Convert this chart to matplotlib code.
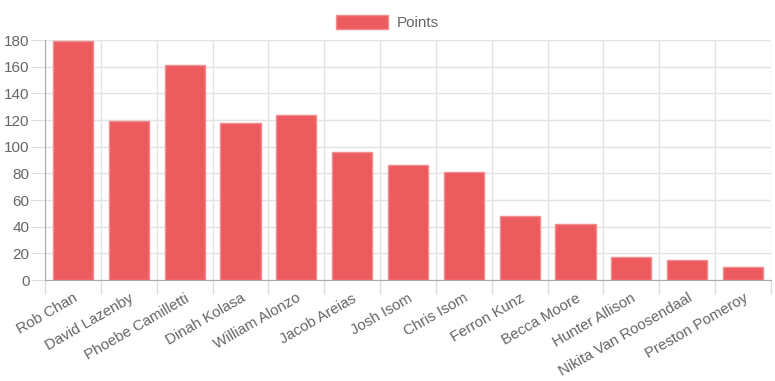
import matplotlib
matplotlib.use('Agg')
import matplotlib.pyplot as plt
import numpy as np

names = ['Rob Chan', 'David Lazenby', 'Phoebe Camilletti', 'Dinah Kolasa', 'William Alonzo',
         'Jacob Areias', 'Josh Isom', 'Chris Isom', 'Ferron Kunz', 'Becca Moore',
         'Hunter Allison', 'Nikita Van Roosendaal', 'Preston Pomeroy']
points = [179, 119, 161, 118, 124, 96, 86, 81, 48, 42, 17, 15, 10]
y_ticks = [0, 20, 40, 60, 80, 100, 120, 140, 160, 180]

plt.rcParams['font.family'] = ['Liberation Sans', 'DejaVu Sans']

fig = plt.figure(figsize=(7.75, 3.81), dpi=100)
ax = fig.add_axes([45 / 775, (381 - 280) / 381, (771 - 45) / 775, 240 / 381])

x = np.arange(len(names))
ax.bar(x, points, width=0.72, color='#ec5c5f', edgecolor='#f28b8d', linewidth=1,
       label='Points', zorder=3)

ax.set_xlim(-0.5, len(names) - 0.5)
ax.set_ylim(0, 180)

# labels at bar centres, grid lines and tick marks between the bars
ax.set_xticks(x)
ax.set_xticklabels(names, rotation=30, ha='right', rotation_mode='anchor')
ax.set_xticks(np.arange(-0.5, len(names)), minor=True)
ax.tick_params(axis='x', which='major', length=0, pad=8, labelsize=10.8, labelcolor='#666666')
ax.tick_params(axis='x', which='minor', length=10, color='#dddddd', width=1)
ax.grid(True, axis='x', which='minor', color='#e3e3e3', linewidth=1, zorder=0)

ax.set_yticks(y_ticks)
ax.tick_params(axis='y', length=10, color='#dddddd', labelsize=11, labelcolor='#666666', pad=1)
ax.grid(True, axis='y', color='#e3e3e3', linewidth=1, zorder=0)

for s in ['top', 'right']:
    ax.spines[s].set_visible(False)
ax.spines['left'].set_color('#aaaaaa')
ax.spines['bottom'].set_color('#aaaaaa')

fig.legend(loc='upper center', bbox_to_anchor=(0.5, 1.0), frameon=False,
           handlelength=3.4, handleheight=1.0, handletextpad=0.55, fontsize=11,
           labelcolor='#666666', borderaxespad=0.6)

fig.savefig('out.png', dpi=100)
